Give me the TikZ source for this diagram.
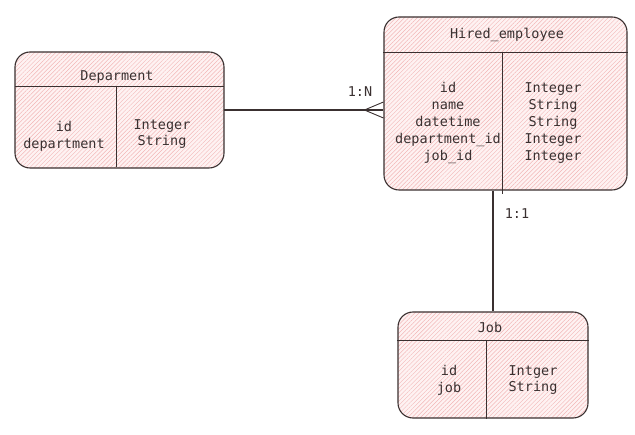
\documentclass[tikz,border=0pt]{standalone}
\usepackage{fontspec}
\setmonofont{DejaVu Sans Mono}
\usetikzlibrary{patterns.meta,calc}
\definecolor{hatch}{RGB}{242,182,182}
\definecolor{boxbg}{RGB}{254,242,242}
\definecolor{edge}{RGB}{58,48,48}
\begin{document}
\begin{tikzpicture}[x=1pt,y=-1pt,
	tbl/.style={draw=edge,line width=1.1pt,rounded corners=15pt,preaction={fill=boxbg},
		pattern={Lines[angle=45,distance=3pt,line width=0.45pt]},pattern color=hatch,inner sep=0pt},
	txt/.style={font=\ttfamily\fontsize{13.5}{16.8}\selectfont,text=edge,align=center,inner sep=0pt},
	rel/.style={draw=edge,line width=1.1pt}]
	\useasboundingbox (0,0) rectangle (635,435);
	% tables
	\node[tbl,minimum width=209pt,minimum height=116pt] (dept) at (119.5,110) {};
	\node[tbl,minimum width=243pt,minimum height=173pt] (hired) at (505.5,103.5) {};
	\node[tbl,minimum width=190pt,minimum height=106pt] (job) at (493,365) {};
	\draw[rel] ($(dept.north west)+(0,35)$) -- ($(dept.north east)+(0,35)$);
	\draw[rel] ($(dept.north west)+(102,35)$) -- ($(dept.south west)+(102,-1)$);
	\draw[rel] ($(hired.north west)+(0,36)$) -- ($(hired.north east)+(0,36)$);
	\draw[rel] ($(hired.north west)+(119,36)$) -- ($(hired.south west)+(119,3)$);
	\draw[rel] ($(job.north west)+(0,29)$) -- ($(job.north east)+(0,29)$);
	\draw[rel] ($(job.north west)+(89,29)$) -- ($(job.south west)+(89,0)$);
	% texts
	\node[txt] (depttitle) at (117,77) {Deparment};
	\node[txt] (deptcols) at (64,136) {id\\department};
	\node[txt] (depttypes) at (162,134) {Integer\\String};
	\node[txt] (hiredtitle) at (507,35) {Hired\_employee};
	\node[txt] (hiredcols) at (448,123) {id\\name\\datetime\\department\_id\\job\_id};
	\node[txt] (hiredtypes) at (553,123) {Integer\\String\\String\\Integer\\Integer};
	\node[txt] (jobtitle) at (490,327) {Job};
	\node[txt] (jobcols) at (449,380) {id\\job};
	\node[txt] (jobtypes) at (533,380) {Intger\\String};
	% relations
	\coordinate (cf) at (dept.east -| hired.west);
	\draw[rel] (dept.east) -- (cf);
	\draw[rel,line width=0.9pt] ($(cf)+(0,-8)$) -- ($(cf)+(-19,0)$) -- ($(cf)+(0,8)$);
	\node[txt] (onen) at (360,92) {1:N};
	\coordinate (jt) at (job.north |- hired.south);
	\draw[rel] (jt) -- (job.north);
	\node[txt] (oneone) at (517,214) {1:1};
\end{tikzpicture}
\end{document}
